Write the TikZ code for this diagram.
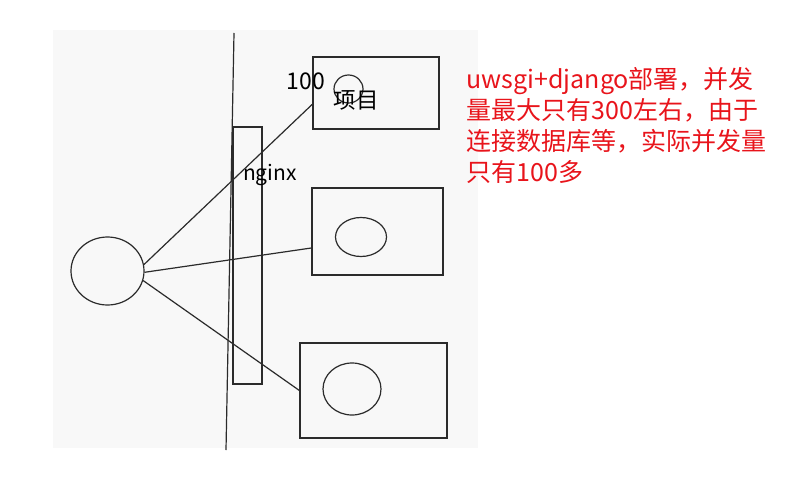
\documentclass[tikz,border=0pt]{standalone}
\usepackage{fontspec}
\setmainfont{Noto Sans CJK SC}
\usetikzlibrary{shapes.geometric}
\definecolor{ink}{HTML}{2B2B2B}
\definecolor{note}{HTML}{E8141B}
\definecolor{board}{HTML}{F8F8F8}

\begin{document}
\begin{tikzpicture}[x=1pt, y=-1pt, line width=1.2pt, draw=ink,
	box/.style={rectangle, draw=ink, inner sep=0pt},
	oval/.style={ellipse, draw=ink, inner sep=0pt}]
		\useasboundingbox (0,0) rectangle (789,503);
		\fill[board] (53,30) rectangle (478,448);

		\draw (107.5,271) node [oval, minimum width=73, minimum height=68] (client) {};
		\draw (247.5,255.5) node [box, minimum width=29, minimum height=257] (nginx) {};
		\draw (376,93) node [box, minimum width=126, minimum height=72] (proj1) {};
		\draw (377.5,231.5) node [box, minimum width=131, minimum height=87] (proj2) {};
		\draw (373.5,390.5) node [box, minimum width=147, minimum height=95] (proj3) {};

		\draw (348.5,89) node [oval, minimum width=29, minimum height=28] (app1) {};
		\draw (361,237) node [oval, minimum width=51, minimum height=39] (app2) {};
		\draw (352,389) node [oval, minimum width=58, minimum height=52] (app3) {};

		\coordinate (wallTop) at (234,33);
		\coordinate (wallBot) at (226,450);
		\draw (wallTop) -- (wallBot);

		\draw (270,175) node [font=\fontsize{21}{21}\selectfont] (nginxLabel) {nginx};
		\draw (306,81) node [font=\fontsize{23}{23}\selectfont] (count) {100};
		\draw (356,100) node [font=\fontsize{22.5}{22.5}\selectfont] (projLabel) {项目};

		\draw 
		(client.10) edge (proj1.190)
		(client.-2) edge (proj2.194)
		(client.-15) edge (proj3.west);

		\draw (466,67) node [anchor=north west, text=note, align=left,
			font=\fontsize{25}{31}\selectfont, inner sep=0pt] (memo)
			{uwsgi+django部署，并发\\量最大只有300左右，由于\\连接数据库等，实际并发量\\只有100多};
	\end{tikzpicture}
\end{document}
